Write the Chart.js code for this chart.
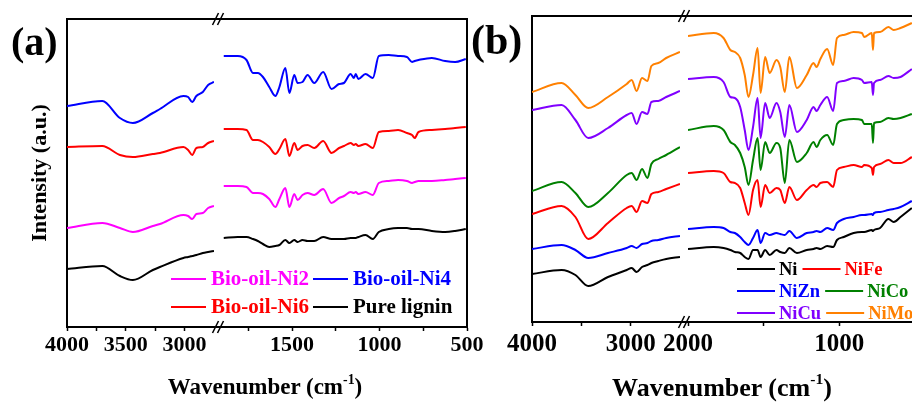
<!DOCTYPE html>
<html lang="en">
<head>
<meta charset="UTF-8">
<title>FTIR spectra</title>
<script src="https://cdn.jsdelivr.net/npm/chart.js"></script>
<style>
  body { margin: 0; width: 912px; height: 403px; overflow: hidden; background: #fff; position: relative;
         font-family: "Liberation Serif", "Times New Roman", serif; font-weight: bold; }
  canvas { position: absolute; top: 0; }
  #chartA { left: 0; }
  #chartB { left: 460px; }
  .lbl { position: absolute; white-space: nowrap; line-height: 1; }
  .xt { transform: translateX(-50%); }
  .xt sup { font-size: 0.6em; vertical-align: 0.75em; line-height: 0; }
</style>
</head>
<body>
<canvas id="chartA" width="500" height="403"></canvas>
<canvas id="chartB" width="480" height="403"></canvas>
<div class="lbl" style="left:11px; top:22px; font-size:40px">(a)</div>
<div class="lbl" style="left:471px; top:19px; font-size:42px">(b)</div>
<div class="lbl xt" style="left:265px; top:375px; font-size:23px">Wavenumber (cm<sup>-1</sup>)</div>
<div class="lbl xt" style="left:722px; top:375px; font-size:26px">Wavenumber (cm<sup>-1</sup>)</div>

<script>
// ---- panel (a): bio-oils vs pure lignin ----
const aLeftTicks  = [4000, 3750, 3500, 3250, 3000];
const aRightTicks = [1750, 1500, 1250, 1000, 750, 500];
const aTickLabels = [4000, 3500, 3000, 1500, 1000, 500];

const aLeftWn  = [4000, 3700, 3550, 3440, 3270, 3210, 3010, 2970, 2935, 2900, 2845, 2800, 2750];
const aRightWn = [1890, 1810, 1760, 1723, 1695, 1666, 1630, 1595, 1572, 1538, 1515, 1487, 1468, 1440,
                  1411, 1373, 1322, 1274, 1231, 1203, 1165, 1146, 1136, 1121, 1080, 1038, 1004, 947,
                  894, 843, 814, 799, 777, 701, 625, 568, 507];

const ni2Left  = [99, 104, 99, 95, 101, 103, 112, 111, 108, 113, 114, 119, 121];
const ni2Right = [141, 141, 140, 134, 134, 133, 128, 120, 128, 139, 120, 133, 127, 132,
                  134, 132, 138, 124, 129, 131, 135, 134, 135, 133, 135, 132, 144, 146,
                  147, 146, 144, 145, 146, 146, 147, 148, 149];
const ni4Left  = [221, 226, 209, 204, 214, 218, 231, 230, 225, 231, 235, 242, 245];
const ni4Right = [271, 271, 267, 254, 254, 250, 240, 231, 240, 259, 234, 252, 244, 245,
                  252, 244, 255, 238, 243, 244, 253, 249, 253, 248, 253, 249, 271, 272,
                  271, 270, 265, 266, 267, 269, 266, 265, 268];
const ni6Left  = [180, 181, 172, 170, 173, 174, 180, 177, 172, 179, 180, 184, 186];
const ni6Right = [198, 198, 197, 187, 187, 185, 180, 173, 178, 188, 171, 184, 177, 181,
                  182, 179, 186, 174, 179, 181, 184, 182, 183, 181, 183, 179, 195, 196,
                  197, 194, 192, 189, 195, 197, 198, 199, 200];
const ligLeft  = [58, 61, 51, 47, 57, 60, 69, 70, 71, 72, 74, 75, 76];
const ligRight = [89, 90, 90, 88, 86, 83, 80, 81, 82, 87, 84, 87, 85, 87,
                  86, 86, 90, 88, 88, 88, 89, 89, 89, 90, 92, 88, 95, 98,
                  99, 99, 98, 98, 98, 96, 95, 96, 98];

// ---- panel (b): catalysts ----
const bLeftTicks  = [4000, 3500, 3000];
const bRightTicks = [2000, 1500, 1000, 500];
const bTickLabels = [4000, 3000, 2000, 1000];

const bLeftWn  = [4000, 3700, 3560, 3430, 3230, 3040, 2990, 2940, 2885, 2830, 2790, 2720, 2640, 2500];
const bRightWn = [2000, 1830, 1765, 1720, 1690, 1655, 1625, 1600, 1570, 1540, 1520, 1490, 1460, 1415,
                  1390, 1360, 1330, 1280, 1215, 1170, 1150, 1125, 1080, 1040, 1015, 970, 905, 850,
                  835, 785, 777, 770, 730, 675, 640, 595, 520];

const niLeft    = [48, 52, 47, 36, 45, 52, 54, 50, 55, 57, 59, 61, 63, 65];
const niRight   = [73, 75, 74, 72, 70, 69, 65, 63, 72, 72, 65, 72, 67, 72, 70, 69, 74, 69, 72,
                   73, 74, 73, 76, 75, 82, 85, 89, 90, 90, 92, 91, 92, 94, 103, 100, 105, 114];
const niFeLeft  = [108, 116, 105, 83, 99, 114, 116, 110, 121, 119, 128, 130, 133, 138];
const niFeRight = [149, 151, 149, 140, 139, 134, 119, 107, 132, 142, 115, 137, 129, 134, 132, 119, 135, 122, 132,
                   137, 135, 139, 140, 135, 152, 155, 157, 155, 157, 154, 147, 155, 158, 162, 159, 159, 165];
const niZnLeft  = [73, 77, 72, 64, 69, 74, 76, 74, 78, 79, 81, 82, 84, 86];
const niZnRight = [93, 95, 94, 90, 89, 85, 80, 77, 84, 92, 79, 89, 87, 89, 88, 87, 91, 84, 89,
                   90, 91, 90, 94, 92, 99, 103, 105, 107, 107, 108, 107, 109, 110, 112, 113, 115, 121];
const niCoLeft  = [131, 140, 129, 115, 129, 147, 149, 142, 153, 144, 158, 163, 167, 175];
const niCoRight = [192, 196, 192, 180, 177, 169, 155, 137, 162, 184, 152, 180, 169, 179, 174, 139, 182, 160, 169,
                   180, 175, 182, 187, 177, 198, 202, 203, 202, 198, 198, 179, 199, 200, 204, 203, 204, 208];
const niCuLeft  = [212, 217, 202, 184, 194, 207, 209, 198, 210, 208, 220, 221, 225, 231];
const niCuRight = [243, 245, 240, 225, 224, 215, 192, 172, 195, 224, 184, 219, 204, 219, 210, 185, 217, 190, 202,
                   215, 211, 217, 225, 211, 239, 241, 244, 242, 239, 240, 227, 239, 242, 246, 244, 245, 253];
const niMoLeft  = [230, 239, 227, 214, 225, 238, 242, 231, 244, 241, 256, 259, 264, 270];
const niMoRight = [286, 289, 284, 272, 270, 264, 247, 225, 247, 274, 229, 265, 249, 262, 255, 230, 265, 234, 247,
                   259, 255, 263, 273, 257, 284, 287, 290, 289, 285, 289, 272, 289, 290, 295, 292, 294, 299];

const serif = '"Liberation Serif", "Times New Roman", serif';

function pts(wn, vals) {
  return wn.map((w, i) => ({ x: w, y: vals[i] }));
}

function seriesSets(list, leftWn, rightWn) {
  const out = [];
  list.forEach(s => {
    const common = { label: s.label, borderColor: s.color, backgroundColor: s.color, borderWidth: 2,
                     pointRadius: 0, cubicInterpolationMode: 'monotone', fill: false };
    out.push(Object.assign({ data: pts(leftWn, s.left), xAxisID: 'xL' }, common));
    out.push(Object.assign({ data: pts(rightWn, s.right), xAxisID: 'xR' }, common));
  });
  return out;
}

// one piece of the broken wavenumber axis
function segAxis(min, max, weight, tickVals, labelVals, fontPx, axisH, pad) {
  return {
    type: 'linear', position: 'bottom', stack: 'x', stackWeight: weight,
    min: min, max: max, reverse: true,
    afterFit: s => { s.height = axisH; },
    afterBuildTicks: s => { s.ticks = tickVals.map(v => ({ value: v })); },
    ticks: {
      autoSkip: false, maxRotation: 0, minRotation: 0, padding: pad, color: '#000',
      font: { family: serif, size: fontPx, weight: 'bold' },
      callback: v => (labelVals.includes(v) ? String(v) : '')
    },
    grid: { display: true, drawOnChartArea: false, drawTicks: true, tickLength: 4, tickWidth: 1.5, tickColor: '#000' },
    border: { display: true, color: '#000', width: 2 }
  };
}

function gapAxis(weight, axisH) {
  return {
    type: 'linear', position: 'bottom', stack: 'x', stackWeight: weight, min: 0, max: 1,
    afterFit: s => { s.height = axisH; },
    ticks: { display: false }, grid: { display: false },
    border: { display: true, color: '#000', width: 2 }
  };
}

const framePlugin = {
  id: 'frame',
  afterDatasetsDraw(chart) {
    const { ctx, chartArea: a } = chart;
    const g = chart.scales.xG;
    const cx = (g.left + g.right) / 2;
    ctx.save();
    ctx.strokeStyle = '#000';
    ctx.lineWidth = 2;
    ctx.beginPath();
    ctx.moveTo(a.left, a.top); ctx.lineTo(a.right, a.top); ctx.lineTo(a.right, a.bottom);
    ctx.stroke();
    ctx.lineWidth = 1.6;
    [a.top, a.bottom].forEach(y => {
      [-2.5, 2.5].forEach(dx => {
        ctx.beginPath();
        ctx.moveTo(cx + dx - 3, y + 6);
        ctx.lineTo(cx + dx + 3, y - 6);
        ctx.stroke();
      });
    });
    ctx.restore();
  }
};

const legendPlugin = {
  id: 'spectraLegend',
  afterDraw(chart, args, o) {
    const ctx = chart.ctx;
    const colorOf = {};
    chart.data.datasets.forEach(d => { colorOf[d.label] = d.borderColor; });
    ctx.save();
    ctx.font = 'bold ' + o.size + 'px ' + serif;
    ctx.textBaseline = 'middle';
    ctx.lineWidth = 2;
    o.rows.forEach((row, r) => {
      let x = o.x;
      const y = o.y + r * o.rowGap;
      row.forEach(label => {
        ctx.strokeStyle = colorOf[label];
        ctx.beginPath(); ctx.moveTo(x, y); ctx.lineTo(x + o.lineLen, y); ctx.stroke();
        x += o.lineLen + o.gapLine;
        ctx.fillStyle = colorOf[label];
        ctx.fillText(label, x, y + 1);
        x += ctx.measureText(label).width + o.gapText;
      });
    });
    ctx.restore();
  }
};

function yAxis(width, max, title, titleSize) {
  return {
    type: 'linear', position: 'left', min: 0, max: max,
    afterFit: s => { s.width = width; },
    ticks: { display: false }, grid: { display: false },
    border: { display: true, color: '#000', width: 2 },
    title: { display: !!title, text: title, color: '#000', padding: { top: 4, bottom: 4 },
             font: { family: serif, size: titleSize, weight: 'bold' } }
  };
}

// panel (a)
const seriesA = [
  { label: 'Bio-oil-Ni2', color: '#ff00ff', left: ni2Left, right: ni2Right },
  { label: 'Bio-oil-Ni4', color: '#0000ff', left: ni4Left, right: ni4Right },
  { label: 'Bio-oil-Ni6', color: '#ff0000', left: ni6Left, right: ni6Right },
  { label: 'Pure lignin', color: '#000000', left: ligLeft, right: ligRight }
];
new Chart(document.getElementById('chartA'), {
  type: 'line',
  data: { datasets: seriesSets(seriesA, aLeftWn, aRightWn) },
  options: {
    responsive: false, animation: false, events: [],
    layout: { padding: { left: 23, right: 33, top: 19, bottom: 0 } },
    scales: {
      xL: segAxis(2750, 4000, 147, aLeftTicks, aTickLabels, 22, 76, 1),
      xG: gapAxis(8, 76),
      xR: segAxis(500, 1900, 245, aRightTicks, aTickLabels, 22, 76, 1),
      y: yAxis(44, 308, 'Intensity (a.u.)', 22)
    },
    plugins: {
      legend: { display: false }, tooltip: { enabled: false },
      spectraLegend: { rows: [['Bio-oil-Ni2', 'Bio-oil-Ni4'], ['Bio-oil-Ni6', 'Pure lignin']],
                       x: 171, y: 279, rowGap: 28, lineLen: 35, gapLine: 5, gapText: 4, size: 21 }
    }
  },
  plugins: [framePlugin, legendPlugin]
});

// panel (b)
const seriesB = [
  { label: 'Ni',   color: '#000000', left: niLeft,   right: niRight },
  { label: 'NiFe', color: '#ff0000', left: niFeLeft, right: niFeRight },
  { label: 'NiZn', color: '#0000ff', left: niZnLeft, right: niZnRight },
  { label: 'NiCo', color: '#008000', left: niCoLeft, right: niCoRight },
  { label: 'NiCu', color: '#8000ff', left: niCuLeft, right: niCuRight },
  { label: 'NiMo', color: '#ff8000', left: niMoLeft, right: niMoRight }
];
new Chart(document.getElementById('chartB'), {
  type: 'line',
  data: { datasets: seriesSets(seriesB, bLeftWn, bRightWn) },
  options: {
    responsive: false, animation: false, events: [],
    layout: { padding: { left: 0, right: 10, top: 16, bottom: 0 } },
    scales: {
      xL: segAxis(2500, 4000, 148, bLeftTicks, bTickLabels, 25, 81, 4),
      xG: gapAxis(8, 81),
      xR: segAxis(400, 2000, 242, bRightTicks, bTickLabels, 25, 81, 4),
      y: yAxis(72, 306, '', 22)
    },
    plugins: {
      legend: { display: false }, tooltip: { enabled: false },
      spectraLegend: { rows: [['Ni', 'NiFe'], ['NiZn', 'NiCo'], ['NiCu', 'NiMo']],
                       x: 277, y: 269, rowGap: 22, lineLen: 38, gapLine: 4, gapText: 5, size: 18.5 }
    }
  },
  plugins: [framePlugin, legendPlugin]
});
</script>
</body>
</html>
